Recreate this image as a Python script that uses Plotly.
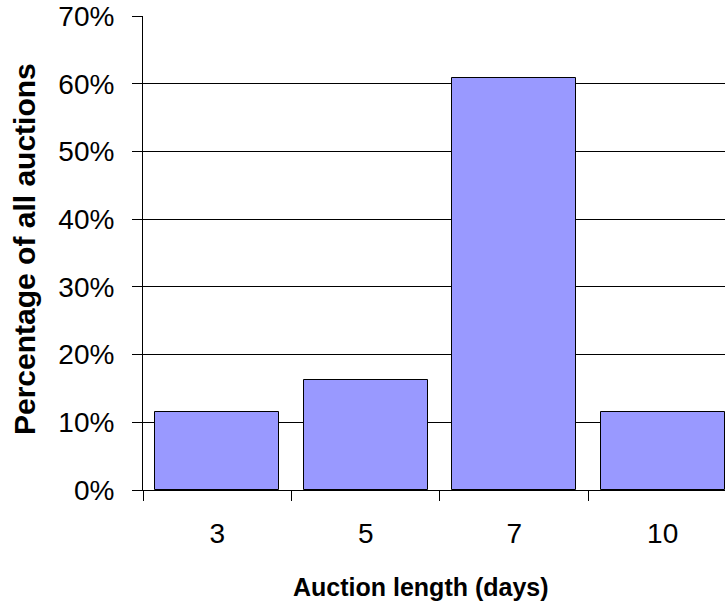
import plotly.graph_objects as go

# Share of auctions by listed auction length
auction_days = ["3", "5", "7", "10"]
share_pct = [11.5, 16.2, 60.8, 11.5]
y_ticks = [0, 10, 20, 30, 40, 50, 60, 70]
y_tick_labels = [f"{v}%" for v in y_ticks]

W, H = 725, 609
L, R, T, B = 143, 0, 16, 119
plot_w = W - L - R
plot_h = H - T - B

font_family = "Liberation Sans, Arial, sans-serif"

fig = go.Figure(
    go.Bar(
        x=auction_days,
        y=share_pct,
        width=0.835,
        marker=dict(color="#9999FF", line=dict(color="#000000", width=1)),
        hoverinfo="skip",
    )
)

fig.update_layout(
    width=W,
    height=H,
    margin=dict(l=L, r=R, t=T, b=B, pad=0),
    paper_bgcolor="white",
    plot_bgcolor="white",
    showlegend=False,
    font=dict(family=font_family, color="#000000"),
    bargap=0,
)

fig.update_xaxes(
    type="category",
    range=[-0.5, 3.42],
    showgrid=False,
    showline=True,
    linecolor="#000000",
    linewidth=1,
    ticks="outside",
    tickson="boundaries",
    ticklen=10,
    tickcolor="#000000",
    tickfont=dict(size=28, family=font_family, color="#000000"),
    ticklabelstandoff=18,
    zeroline=False,
)

fig.update_yaxes(
    range=[0, 70],
    tickvals=y_ticks,
    ticktext=y_tick_labels,
    showgrid=True,
    gridcolor="#000000",
    gridwidth=1,
    showline=True,
    linecolor="#000000",
    linewidth=1,
    ticks="outside",
    ticklen=10,
    tickcolor="#000000",
    tickfont=dict(size=28, family=font_family, color="#000000"),
    ticklabelstandoff=12,
    zeroline=False,
)

# Axis titles placed in pixel terms relative to the plot area
fig.add_annotation(
    text="<b>Auction length (days)</b>",
    xref="paper", yref="paper",
    x=(421 - L) / plot_w, y=-(587 - (T + plot_h)) / plot_h,
    xanchor="center", yanchor="middle",
    showarrow=False,
    font=dict(size=25, family=font_family, color="#000000"),
)
fig.add_annotation(
    text="<b>Percentage of all auctions</b>",
    xref="paper", yref="paper",
    x=(24 - L) / plot_w, y=((T + plot_h) - 249) / plot_h,
    xanchor="center", yanchor="middle",
    textangle=-90,
    showarrow=False,
    font=dict(size=30, family=font_family, color="#000000"),
)

fig.write_html("out.html")
